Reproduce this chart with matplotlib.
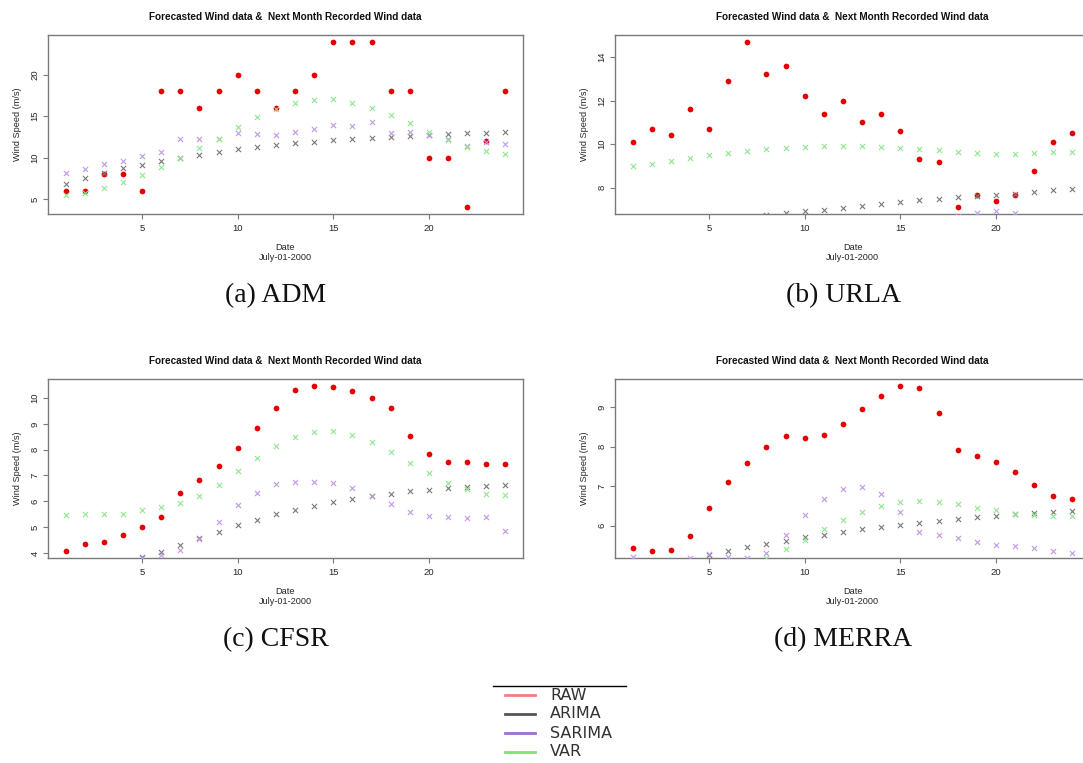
import numpy as np
import matplotlib
matplotlib.use("Agg")
import matplotlib.pyplot as plt
from matplotlib.lines import Line2D

plt.rcParams["font.family"] = ["Liberation Sans", "DejaVu Sans"]

days = list(range(1, 25))

# ---- ADM ----
adm_raw = [6, 6, 8, 8, 6, 18, 18, 16, 18, 20, 18, 16, 18, 20, 24, 24, 24, 18, 18, 10, 10, 4, 12, 18]
adm_arima = [6.81, 7.49, 8.18, 8.78, 9.14, 9.55, 9.95, 10.35, 10.67, 11.0, 11.27, 11.52,
             11.72, 11.88, 12.12, 12.24, 12.4, 12.52, 12.64, 12.76, 12.84, 12.92, 13.0, 13.08]
adm_sarima = [8.18, 8.66, 9.22, 9.55, 10.15, 10.63, 12.24, 12.2, 12.28, 13.0, 12.8, 12.72,
              13.12, 13.45, 13.93, 13.8, 14.25, 12.92, 13.12, 12.7, 12.2, 11.38, 11.9, 11.6]
adm_var = [5.52, 5.77, 6.33, 7.05, 7.86, 8.86, 9.95, 11.11, 12.28, 13.69, 14.85, 15.82,
           16.58, 16.98, 17.02, 16.62, 15.98, 15.09, 14.13, 13.12, 12.16, 11.3, 10.75, 10.39]

# ---- URLA ----
urla_raw = [10.11, 10.70, 10.40, 11.60, 10.70, 12.90, 14.70, 13.21, 13.60, 12.20, 11.40, 12.0,
            11.0, 11.40, 10.61, 9.30, 9.19, 7.10, 7.69, 7.40, 7.69, 8.79, 10.09, 10.50]
urla_arima = [6.10, 6.20, 6.28, 6.36, 6.44, 6.52, 6.62, 6.76, 6.84, 6.92, 6.99, 7.08,
              7.18, 7.25, 7.34, 7.42, 7.50, 7.56, 7.62, 7.68, 7.73, 7.80, 7.88, 7.94]
urla_sarima = [5.90, 6.00, 6.08, 6.15, 6.22, 6.28, 6.33, 6.38, 6.42, 6.46, 6.50, 6.54,
               6.57, 6.60, 6.62, 6.64, 6.66, 6.70, 6.84, 6.93, 6.84, 6.62, 6.55, 6.48]
urla_var = [8.99, 9.10, 9.24, 9.36, 9.50, 9.59, 9.68, 9.76, 9.82, 9.88, 9.91, 9.92,
            9.91, 9.88, 9.82, 9.76, 9.71, 9.65, 9.60, 9.57, 9.57, 9.59, 9.62, 9.66]

# ---- CFSR ----
cfsr_raw = [4.06, 4.35, 4.41, 4.68, 4.99, 5.39, 6.32, 6.82, 7.35, 8.07, 8.84, 9.60,
            10.32, 10.48, 10.44, 10.26, 10.01, 9.60, 8.52, 7.85, 7.54, 7.52, 7.44, 7.46]
cfsr_arima = [3.30, 3.40, 3.50, 3.62, 3.84, 4.03, 4.30, 4.58, 4.82, 5.07, 5.29, 5.49,
              5.67, 5.83, 5.97, 6.09, 6.20, 6.29, 6.38, 6.45, 6.51, 6.56, 6.60, 6.64]
cfsr_sarima = [3.20, 3.30, 3.40, 3.55, 3.82, 3.92, 4.12, 4.53, 5.21, 5.85, 6.34, 6.67,
               6.76, 6.76, 6.69, 6.51, 6.20, 5.89, 5.58, 5.43, 5.38, 5.35, 5.38, 4.86]
cfsr_var = [5.48, 5.49, 5.51, 5.52, 5.65, 5.78, 5.93, 6.21, 6.65, 7.17, 7.67, 8.13,
            8.48, 8.67, 8.71, 8.58, 8.29, 7.90, 7.50, 7.09, 6.72, 6.47, 6.30, 6.25]

# ---- MERRA ----
merra_raw = [5.44, 5.35, 5.38, 5.75, 6.46, 7.10, 7.60, 7.99, 8.28, 8.22, 8.29, 8.59,
             8.96, 9.28, 9.55, 9.50, 8.85, 7.91, 7.76, 7.62, 7.37, 7.02, 6.76, 6.67]
merra_arima = [4.90, 4.96, 5.02, 5.10, 5.26, 5.36, 5.45, 5.54, 5.62, 5.71, 5.77, 5.84,
               5.92, 5.97, 6.03, 6.08, 6.13, 6.17, 6.21, 6.24, 6.29, 6.32, 6.35, 6.38]
merra_sarima = [5.21, 5.02, 5.04, 5.19, 5.28, 5.22, 5.19, 5.32, 5.76, 6.27, 6.68, 6.92,
                6.97, 6.80, 6.35, 5.84, 5.76, 5.69, 5.59, 5.52, 5.48, 5.44, 5.36, 5.30]
merra_var = [4.60, 4.65, 4.70, 4.78, 4.88, 5.00, 5.08, 5.19, 5.41, 5.65, 5.92, 6.15,
             6.35, 6.51, 6.61, 6.63, 6.60, 6.54, 6.46, 6.39, 6.30, 6.26, 6.24, 6.24]

panels = [
    ("(a) ADM", adm_raw, adm_arima, adm_sarima, adm_var, [5, 10, 15, 20]),
    ("(b) URLA", urla_raw, urla_arima, urla_sarima, urla_var, [8, 10, 12, 14]),
    ("(c) CFSR", cfsr_raw, cfsr_arima, cfsr_sarima, cfsr_var, [4, 5, 6, 7, 8, 9, 10]),
    ("(d) MERRA", merra_raw, merra_arima, merra_sarima, merra_var, [6, 7, 8, 9]),
]

series_names = ["RAW", "ARIMA", "SARIMA", "VAR"]
point_colors = ["#e60000", "#7a7a7a", "#bf9ae6", "#8fe88f"]
legend_colors = ["#ee7f7f", "#555555", "#9b6fd0", "#7fe07f"]
title = "Forecasted Wind data &  Next Month Recorded Wind data"
x_ticks = [5, 10, 15, 20]

W, H = 1083, 763
fig = plt.figure(figsize=(W / 100, H / 100), dpi=100)

# axes boxes in pixels: (left, top, width, height)
boxes = [(48, 35, 475, 179), (615, 35, 475, 179),
         (48, 379, 475, 179), (615, 379, 475, 179)]
caption_xy = [(276, 296), (843, 296), (276, 640), (843, 640)]

spine_col = "#7a7a7a"
text_col = "#262626"

for (cap, raw, ari, sar, var, yt), (l, t, w, h), (cx, cy) in zip(panels, boxes, caption_xy):
    ax = fig.add_axes([l / W, 1 - (t + h) / H, w / W, h / H])
    ax.scatter(days, raw, s=17, color=point_colors[0], marker="o", linewidths=0, zorder=2)
    for vals, col in zip([ari, sar, var], point_colors[1:]):
        ax.scatter(days, vals, s=14, color=col, marker="x", linewidths=0.8, zorder=3)
    lo, hi = min(raw), max(raw)
    pad = 0.04 * (hi - lo)
    ax.set_ylim(lo - pad, hi + pad)
    ax.set_xlim(1 - 0.04 * 23, 24 + 0.04 * 23)
    ax.set_xticks(x_ticks)
    ax.set_yticks(yt)
    for sp in ax.spines.values():
        sp.set_color(spine_col)
        sp.set_linewidth(1.0)
    ax.tick_params(axis="both", length=3.6, width=0.8, color=spine_col,
                   labelsize=6.8, labelcolor=text_col)
    ax.tick_params(axis="x", pad=3.5)
    ax.tick_params(axis="y", pad=2.5, labelrotation=90)
    for lab in ax.get_yticklabels():
        lab.set_va("center")
    ax.set_title(title, fontsize=7.2, fontweight="bold", color="#111111", pad=10.5)
    ax.set_xlabel("Date\nJuly-01-2000", fontsize=6.6, color=text_col, labelpad=7.5,
                  linespacing=1.1)
    ax.set_ylabel("Wind Speed (m/s)", fontsize=6.6, color=text_col, labelpad=6)
    fig.text(cx / W, 1 - cy / H, cap, ha="center", va="center", fontsize=20,
             family="Liberation Serif", color="#111111")

# shared legend below the panels
fig.add_artist(Line2D([493 / W, 626 / W], [1 - 686 / H, 1 - 686 / H],
                      color="black", linewidth=1.0))
rows_y = [695, 714, 733, 752]
for name, col, yy in zip(series_names, legend_colors, rows_y):
    fig.add_artist(Line2D([505 / W, 535 / W], [1 - yy / H, 1 - yy / H],
                          color=col, linewidth=2.0))
    fig.text(550 / W, 1 - yy / H, name, ha="left", va="center", fontsize=11.5,
             family="DejaVu Sans", color="#333333")

fig.savefig("out.png", dpi=100, facecolor="white")
